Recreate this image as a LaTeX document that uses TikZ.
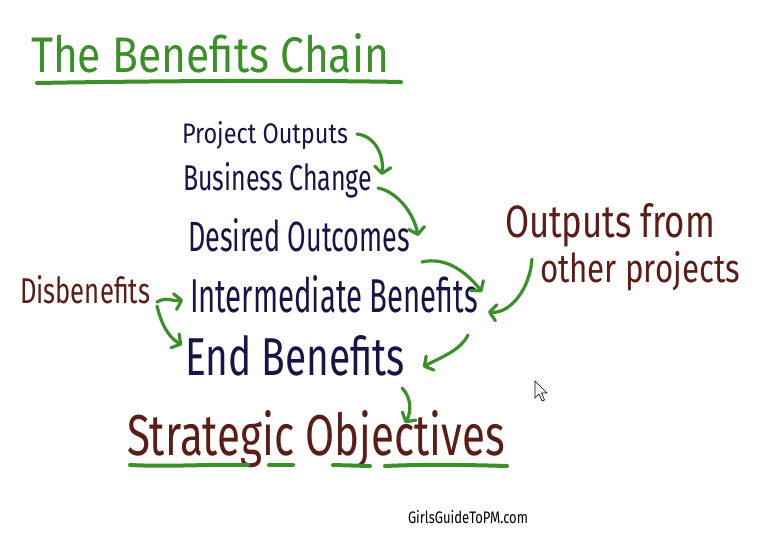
\documentclass[tikz,border=0pt]{standalone}
\usepackage{fontspec}
\setmainfont{Fira Sans}
\usetikzlibrary{arrows.meta}
\definecolor{grn}{HTML}{3C8F2B}
\definecolor{navy}{HTML}{1A1446}
\definecolor{brn}{HTML}{5A1E19}
\tikzset{
  lbl/.style={anchor=base west,inner sep=0pt,outer sep=0pt},
  navytxt/.style={lbl,text=navy},
  brntxt/.style={lbl,text=brn},
  garrow/.style={draw=grn,line width=3.2pt,line cap=round,line join=round,
     -{Straight Barb[length=6.5pt,width=16pt,round]}},
  gline/.style={draw=grn,line width=4pt,line cap=round}
}
\newcommand{\fw}[4]{\resizebox{#1pt}{#2pt}{\fontsize{#3}{#3}\selectfont #4}}
\begin{document}
\begin{tikzpicture}[x=1pt,y=-1pt]
\useasboundingbox[fill=white] (0,0) rectangle (761,539);
% title
\node[lbl,text=grn] (title) at (31,72) {\fw{358}{39}{40}{The Benefits Chain}};
\draw[gline] ([shift={(6,11)}]title.base west) .. controls (150,81) and (300,80) .. ([shift={(12,10)}]title.base east);
% chain
\node[navytxt] (po) at (182,143) {\fw{166}{22}{22}{Project Outputs}};
\node[navytxt] (bc) at (183,190) {\fw{189}{28}{25}{Business Change}};
\node[navytxt] (do) at (188,251) {\fw{222}{33}{28}{Desired Outcomes}};
\node[navytxt] (ib) at (190,312) {\fw{288}{37}{34}{Intermediate Benefits}};
\node[navytxt] (eb) at (185,375) {\fw{220}{40}{38}{End Benefits}};
\node[brntxt] (so) at (127,455) {\fw{378}{45}{44}{Strategic Objectives}};
\node[brntxt] (dis) at (20,303) {\fw{130}{28}{26}{Disbenefits}};
\node[brntxt] (oth1) at (505,237) {\fw{210}{34}{36}{Outputs from}};
\node[brntxt] (oth2) at (540,282) {\fw{200}{31}{32}{other projects}};
\node[lbl,text=black] (gg) at (408,523) {\fw{120}{13}{14}{GirlsGuideToPM.com}};
% underlines of Strategic Objectives
\draw[gline] (130,465) .. controls (170,467) and (210,464) .. (248,465);
\draw[gline] (269,465) -- (293,465);
\draw[gline] (333,465) -- (370,466);
\draw[gline] (385,466) .. controls (430,464) and (470,465) .. (507,466);
% arrows
\draw[garrow] ([shift={(9,-9)}]po.base east) .. controls ++(18,2) and ++(2,-20) .. ([shift={(10,-15)}]bc.base east);
\draw[garrow] ([shift={(6,-2)}]bc.base east) .. controls ++(20,4) and ++(-4,-22) .. ([shift={(8,-15)}]do.base east);
\draw[garrow] ([shift={(12,11)}]do.base east) .. controls ++(25,-6) and ++(-14,-18) .. ([shift={(4,-20)}]ib.base east);
\draw[garrow] ([shift={(-8,-23)}]oth2.base west) .. controls ++(-2,30) and ++(22,2) .. ([shift={(10,0)}]ib.base east);
\draw[garrow] ([shift={(-10,23)}]ib.base east) .. controls ++(-8,16) and ++(18,-10) .. ([shift={(18,-8)}]eb.base east);
\draw[garrow] ([shift={(-3,13)}]eb.base east) .. controls ++(10,10) and ++(6,-10) .. ([shift={(-100,-32)}]so.base east);
\draw[garrow] ([shift={(7,-1)}]dis.base east) .. controls ++(10,-6) and ++(-10,2) .. ([shift={(-7,-12)}]ib.base west);
\draw[garrow] ([shift={(7,3)}]dis.base east) .. controls ++(6,25) and ++(-10,-6) .. ([shift={(-3,-30)}]eb.base west);
% mouse cursor
\draw[black,fill=white,line width=0.6pt,line join=miter] (535,381) -- (535,398) -- (539,394) -- (542,401) -- (544.5,400) -- (541.5,393) -- (547,393) -- cycle;
\end{tikzpicture}
\end{document}
